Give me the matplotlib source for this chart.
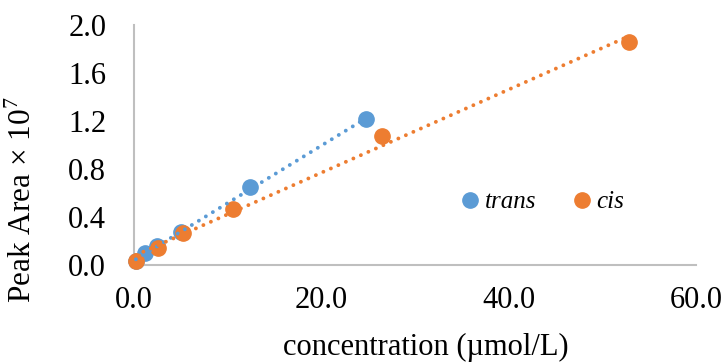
import matplotlib
matplotlib.use('Agg')
import matplotlib.pyplot as plt
import numpy as np

plt.rcParams['font.family'] = ['Liberation Serif', 'DejaVu Serif']
plt.rcParams['mathtext.fontset'] = 'custom'
plt.rcParams['mathtext.rm'] = 'Liberation Serif'

# data
trans_x = [0.2, 1.2, 2.5, 5.0, 12.4, 24.8]
trans_y = [0.033, 0.10, 0.16, 0.275, 0.65, 1.215]
cis_x = [0.2, 2.6, 5.2, 10.6, 26.5, 52.8]
cis_y = [0.033, 0.14, 0.27, 0.47, 1.075, 1.86]

blue = '#5B9BD5'
orange = '#ED7D31'

fig = plt.figure(figsize=(7.26, 3.62), dpi=100)
ax = fig.add_axes([134/726, 1-265/362, (696-134)/726, (265-25)/362])

for xs, ys, c, lab in [(trans_x, trans_y, blue, 'trans'), (cis_x, cis_y, orange, 'cis')]:
    ax.plot(xs, ys, 'o', color=c, markersize=11, label=lab, clip_on=False, zorder=3)
    k, b = np.polyfit(xs, ys, 1)
    xx = np.array([min(xs), max(xs)])
    ax.plot(xx, k*xx + b, color=c, lw=2.8, linestyle=(0, (0.01, 2.1)),
            dash_capstyle='round', clip_on=False, zorder=4)

ax.set_xlim(0, 60)
ax.set_ylim(0, 2.0)
ax.set_xticks([0, 20, 40, 60])
ax.set_yticks([0, 0.4, 0.8, 1.2, 1.6, 2.0])
ax.set_xticklabels(['0.0', '20.0', '40.0', '60.0'])
ax.set_yticklabels(['0.0', '0.4', '0.8', '1.2', '1.6', '2.0'])
ax.tick_params(length=0, labelsize=22)
ax.tick_params(axis='y', pad=20)
ax.tick_params(axis='x', pad=15)

for s in ['top', 'right']:
    ax.spines[s].set_visible(False)
for s in ['left', 'bottom']:
    ax.spines[s].set_color('#BFBFBF')
    ax.spines[s].set_linewidth(1.5)

ax.set_ylabel('Peak Area × 10$^7$', fontsize=22.5)
ax.yaxis.set_label_coords(-0.171, 0.27)
ax.set_xlabel('concentration (µmol/L)', fontsize=22)
ax.xaxis.set_label_coords(0.52, -0.285)

handles, labels = ax.get_legend_handles_labels()
ax.legend(handles, labels, loc='center', bbox_to_anchor=(0.722, 0.2625), ncol=2,
          frameon=False, handletextpad=0.0, columnspacing=1.2, handlelength=1.2,
          prop={'style': 'italic', 'size': 18})

fig.savefig('out.png', dpi=100)
